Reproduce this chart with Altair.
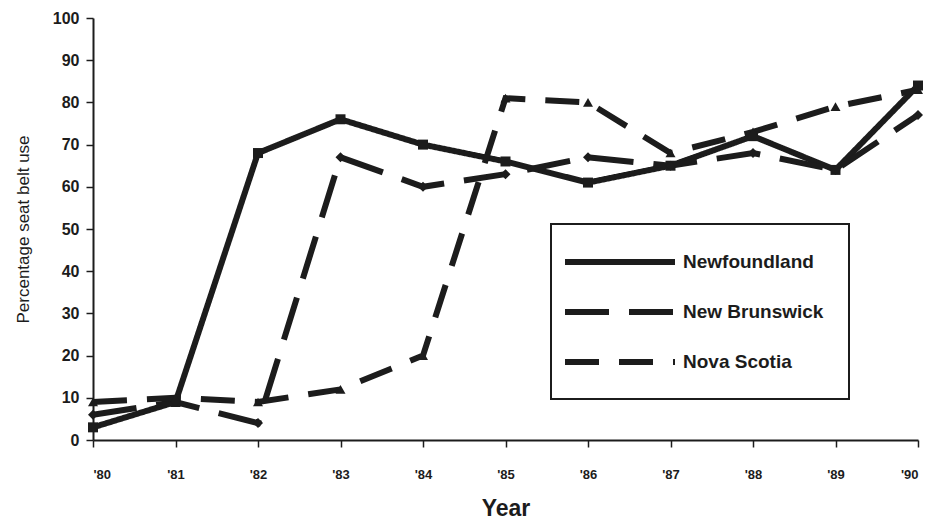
import altair as alt
import pandas as pd

years = [1980, 1981, 1982, 1983, 1984, 1985, 1986, 1987, 1988, 1989, 1990]
newfoundland = [3, 9, 68, 76, 70, 66, 61, 65, 72, 64, 84]
new_brunswick = [6, 9, 4, 67, 60, 63, 67, 65, 68, 64, 77]
nova_scotia = [9, 10, 9, 12, 20, 81, 80, 68, 73, 79, 83]
provinces = ["Newfoundland", "New Brunswick", "Nova Scotia"]
marker_shapes = ["square", "diamond", "triangle-up"]

rows = []
for name, vals in zip(provinces, [newfoundland, new_brunswick, nova_scotia]):
    for y, v in zip(years, vals):
        rows.append({"Year": y, "Use": v, "Province": name})
df = pd.DataFrame(rows)

FONT = "Liberation Sans"
INK = "#1c1c1c"

x = alt.X("Year:Q",
          scale=alt.Scale(domain=[1980, 1990], nice=False, zero=False),
          axis=alt.Axis(title="Year", values=years,
                        labelExpr="\"'\" + substring(toString(datum.value), 2, 4)",
                        labelFont=FONT, labelFontWeight="bold", labelFontSize=13,
                        labelPadding=21, titleFont=FONT, titleFontWeight="bold",
                        titleFontSize=23, titlePadding=16, tickSize=7,
                        tickColor=INK, domainColor=INK, domainWidth=2, tickWidth=1.5,
                        grid=False, labelColor=INK, titleColor=INK))
y = alt.Y("Use:Q",
          scale=alt.Scale(domain=[0, 100], nice=False),
          axis=alt.Axis(title="Percentage seat belt use", values=list(range(0, 101, 10)),
                        labelFont=FONT, labelFontWeight="bold", labelFontSize=16,
                        labelPadding=7, titleFont=FONT,
                        titleFontWeight="normal", titleFontSize=17, titlePadding=20,
                        tickSize=7, tickColor=INK, domainColor=INK, domainWidth=2,
                        tickWidth=1.5, grid=False, labelColor=INK, titleColor=INK))

dash_scale = alt.Scale(domain=provinces, range=[[1, 0], [44, 20], [34, 20]])

lines = alt.Chart(df).mark_line(color=INK, strokeWidth=6).encode(
    x=x, y=y,
    strokeDash=alt.StrokeDash("Province:N", scale=dash_scale, sort=provinces,
                              legend=alt.Legend(title=None, orient="none",
                                                legendX=458, legendY=206,
                                                symbolType="M-5.5,0H5.5",
                                                symbolSize=400,
                                                symbolStrokeWidth=6,
                                                symbolStrokeColor=INK,
                                                symbolOffset=31,
                                                labelOffset=50,
                                                labelFont=FONT, labelFontWeight="bold",
                                                labelFontSize=19, labelColor=INK,
                                                rowPadding=25, padding=25,
                                                strokeColor=INK)),
)

layers = [lines]
for name, shp in zip(provinces, marker_shapes):
    layers.append(
        alt.Chart(df).transform_filter(alt.datum.Province == name)
        .mark_point(filled=True, color=INK, size=100, opacity=1, shape=shp)
        .encode(x=x, y=y)
    )

chart = alt.layer(*layers).properties(
    width=825, height=422,
    autosize=alt.AutoSizeParams(type="none"),
    padding={"left": 85, "top": 10, "right": 8, "bottom": 80},
    background="white",
).configure_view(stroke=None).configure_legend(strokeWidth=2)

chart.save("out.html", embed_options={"renderer": "svg", "actions": False})
